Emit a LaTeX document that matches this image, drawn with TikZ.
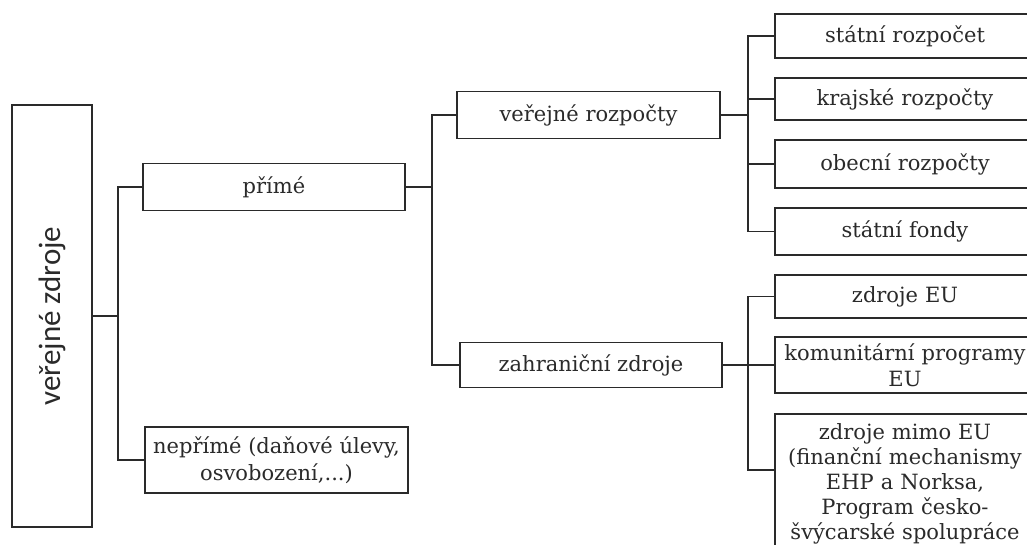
\documentclass[tikz,border=0pt]{standalone}
\usepackage{fontspec}
\setmainfont{DejaVu Serif}
\newfontfamily\sidefont{Carlito}
\definecolor{ink}{HTML}{2A2A2A}
\begin{document}
\begin{tikzpicture}[x=1pt,y=-1pt,
  box/.style={draw=ink, line width=1.8pt, text=ink, inner sep=1pt, align=center,
              font=\fontsize{21}{26.5}\selectfont},
  leaf/.style={box, minimum width=260, text width=256},
  link/.style={draw=ink, line width=1.8pt},
]
\clip (0,0) rectangle (1027,544);
\fill[white] (0,0) rectangle (1027,544);

% root, set vertically
\node[box, rotate=90, minimum width=422, minimum height=80,
      font=\sidefont\fontsize{31}{36}\selectfont] (vz) at (52,316) {veřejné zdroje};

% first level
\node[box, minimum width=262, minimum height=47] (prime) at (274,187) {přímé};
\node[box, minimum width=263, minimum height=66] (neprime) at (276.5,460)
  {nepřímé (daňové úlevy,\\ osvobození,...)};

% second level
\node[box, minimum width=263, minimum height=47] (vr) at (588.5,115) {veřejné rozpočty};
\node[box, minimum width=262, minimum height=45] (zz) at (591,365) {zahraniční zdroje};

% leaves
\node[leaf, minimum height=44] (sr)  at (905,36)    {státní rozpočet};
\node[leaf, minimum height=42] (kr)  at (905,99)    {krajské rozpočty};
\node[leaf, minimum height=48] (obr) at (905,164)   {obecní rozpočty};
\node[leaf, minimum height=47] (sf)  at (905,231.5) {státní fondy};
\node[leaf, minimum height=43] (zeu) at (905,296.5) {zdroje EU};
\node[leaf, minimum height=56] (kp)  at (905,365)   {komunitární programy\\ EU};
\node[leaf, anchor=north, inner ysep=0pt, minimum height=140,
      font=\fontsize{21}{25.2}\selectfont] (zm) at (905,413)
  {zdroje mimo EU\\ (finanční mechanismy\\ EHP a Norksa,\\ Program česko-\\ švýcarské spolupráce};

% junctions
\coordinate (j1) at (118,316);
\coordinate (j2) at (432,187);
\coordinate (j3) at (748,115);
\coordinate (j4) at (748,365);

\draw[link] (vz.south) -- (j1);
\draw[link] (prime.west) -| (j1);
\draw[link] (neprime.west) -| (j1);

\draw[link] (prime.east) -- (j2);
\draw[link] (vr.west) -| (j2);
\draw[link] (zz.west) -| (j2);

\draw[link] (vr.east) -- (j3);
\draw[link] (sr.west) -| (j3);
\draw[link] (kr.west) -| (j3);
\draw[link] (obr.west) -| (j3);
\draw[link] (sf.west) -| (j3);

\draw[link] (zz.east) -- (j4);
\draw[link] (zeu.west) -| (j4);
\draw[link] (kp.west) -| (j4);
\draw[link] ([yshift=-57pt]zm.north west) -| (j4);
\end{tikzpicture}
\end{document}
